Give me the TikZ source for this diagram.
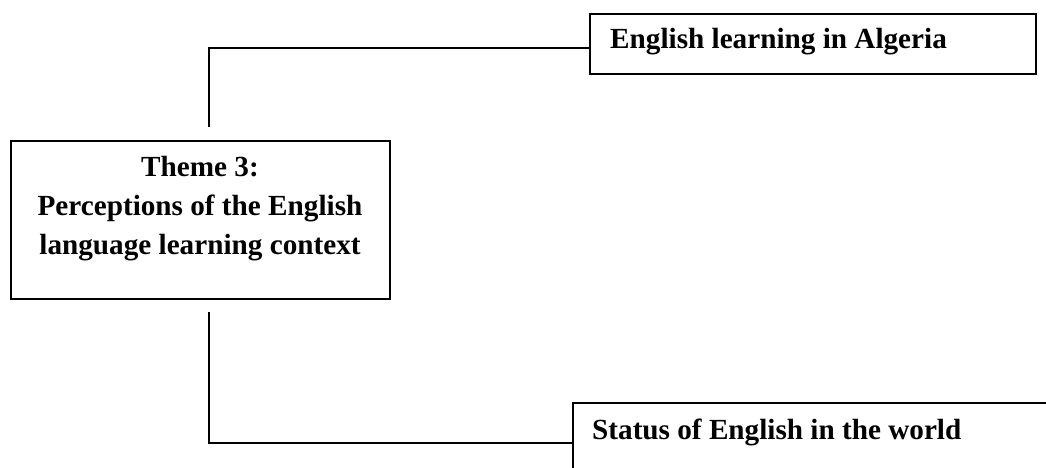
\documentclass[tikz,border=0pt]{standalone}
\usepackage{fontspec}
\setmainfont{Liberation Serif}
\begin{document}
\begin{tikzpicture}[x=1pt,y=-1pt,
  box/.style={draw, line width=1.6pt, inner sep=0pt, anchor=north west},
  link/.style={draw, line width=2.2pt, line cap=butt, line join=miter},
  label/.style={font=\bfseries\fontsize{29.2}{39}\selectfont, inner sep=0pt}]
  \useasboundingbox (0,0) rectangle (1046,468);
  \clip (0,0) rectangle (1046,468);

  % central theme box
  \node[box, minimum width=379pt, minimum height=158pt] (theme) at (10,140) {};
  \node[label, align=center, anchor=center] (themetext) at (200,209)
    {Theme 3:\\Perceptions of the English\\language learning context};

  % upper sub-theme
  \node[box, minimum width=446pt, minimum height=60pt] (algeria) at (589,13) {};
  \node[label, anchor=base west] (algeriatext) at (610,49) {English learning in Algeria};

  % lower sub-theme (runs past the page edge)
  \node[box, minimum width=500pt, minimum height=100pt] (world) at (572,402) {};
  \node[label, anchor=base west] (worldtext) at (592,439) {Status of English in the world};

  % connector ends near the theme box
  \coordinate (upstart) at (209,127);
  \coordinate (downstart) at (209,312);

  \draw[link] (upstart) |- (algeria.west |- 0,48);
  \draw[link] (downstart) |- (world.west |- 0,443);
\end{tikzpicture}
\end{document}
